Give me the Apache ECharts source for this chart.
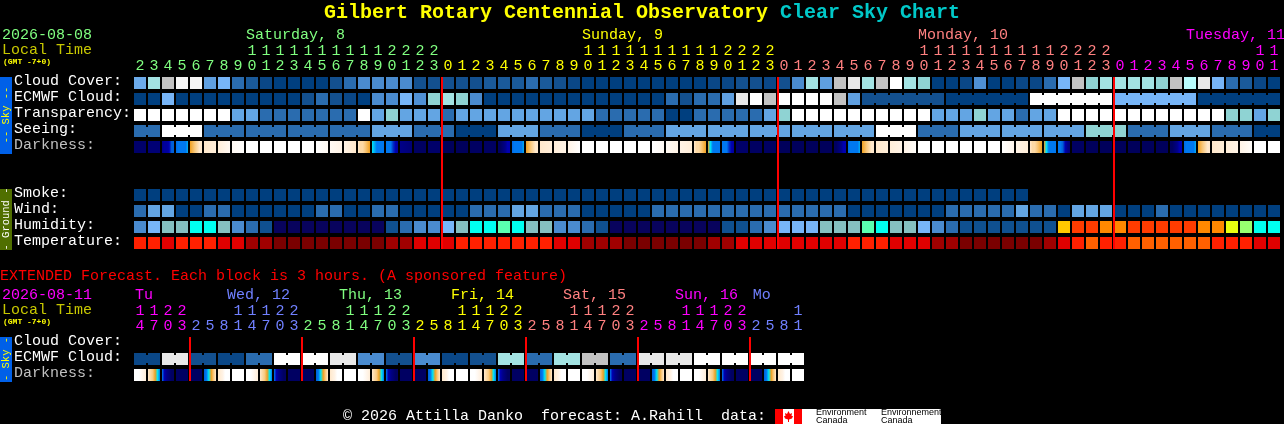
<!DOCTYPE html>
<html><head><meta charset="utf-8">
<style>html,body{margin:0;padding:0;background:#000}#c{width:1284px;height:424px}</style>
<script src="https://cdn.jsdelivr.net/npm/echarts@6/dist/echarts.min.js"></script>
</head><body><div id="c"></div>
<script>
// ---------- main forecast (one cell per hour) ----------
const hours = [2,3,4,5,6,7,8,9,10,11,12,13,14,15,16,17,18,19,20,21,22,23,
  0,1,2,3,4,5,6,7,8,9,10,11,12,13,14,15,16,17,18,19,20,21,22,23,
  0,1,2,3,4,5,6,7,8,9,10,11,12,13,14,15,16,17,18,19,20,21,22,23,
  0,1,2,3,4,5,6,7,8,9,10,11];
const rowNames = ['Cloud Cover:','ECMWF Cloud:','Transparency:','Seeing:','Darkness:','','','Smoke:','Wind:','Humidity:','Temperature:'];
// cloud cover, percent
const cloudCover = [45,70,80,95,95,40,50,20,15,5,0,0,0,0,10,20,30,30,30,30,10,10,
  10,10,10,15,15,15,20,15,10,5,0,0,0,0,0,0,0,0,0,5,5,10,10,5,10,30,70,40,80,90,
  70,80,100,70,60,0,0,5,35,0,0,5,5,20,50,80,60,70,70,70,70,60,80,75,90,50,20,15,5,0];
const ecmwfCloud = [0,0,50,0,0,0,0,0,0,0,0,0,10,20,10,5,0,30,30,50,35,60,
  70,60,30,0,0,0,0,0,0,0,0,0,0,0,0,0,20,10,20,20,40,90,100,80,100,100,100,100,80,40,
  10,10,10,10,10,10,0,0,0,0,0,0,100,100,100,100,100,100,50,50,50,50,50,50,0,0,0,0,0,0];
// sky quality class: 0 excellent, 1 above average, 2 average, 3 below average, 5 too cloudy
const transparency = [5,5,5,5,5,5,5,2,2,1,1,1,1,1,1,1,5,2,3,2,2,2,
  1,2,2,2,2,2,2,2,2,2,2,1,1,1,1,1,0,0,1,1,1,1,1,2,3,5,5,5,5,5,
  5,5,5,5,5,2,2,2,3,2,2,1,2,2,5,5,5,5,5,5,5,5,5,5,5,5,3,3,2,3];
const seeing = [1,1,5,5,5,1,1,1,1,1,1,1,1,1,1,1,1,2,2,2,1,1,
  1,0,0,0,2,2,2,1,1,1,0,0,0,1,1,1,2,2,2,2,2,2,2,2,2,2,2,2,2,2,
  2,5,5,5,1,1,1,2,2,2,2,2,2,2,2,2,3,3,3,1,1,1,2,2,2,1,1,1,0,0];
// sky brightness (limiting magnitude style) sampled across each block
const darkness = [[5.8,5.8],[5.5,5.5],[5,4.5,4.5,4,3,3],[2.5,2,2,2,2,1.5],[0,-.5,-1,-1.5,-2,-2],[-2,-2.5],[-2.5,-3.5],[-3.5,-3.9],
  [-4,-4],[-4,-4],[-4,-4],[-4,-4],[-4,-4],[-4,-3.5],[-3.5,-3],[-3,-2],[-2,-1.5,-1.5,-1,-.5,0],[1,1.5,2,2,2,2],[2,2,2,3.5,4,4.5],[5,5.5],[6,6],[5.8,5.8],
  [6.2,6.2],[6.2,6.2],[6,6],[6,6],[6,6,5.5,5,4,4],[2.5,2,2,2,2,1.5],[0,-.5,-1,-1.5,-2,-2],[-2,-2.5],[-2.5,-3],[-3,-4],
  [-4,-4],[-4,-4],[-4,-4],[-4,-4],[-4,-4],[-4,-3.5],[-3.5,-3],[-3,-2.5],[-2,-1.5,-1.5,-1,-.5,0],[0,1,2,2,2,2],[2,2,2,3.5,4,4.5],[5.8,5.8],[6,6],[6,6],
  [6.2,6.2],[6.2,6.2],[6.2,6.2],[6.2,6.2],[6,6,5.5,5,4,4],[2.5,2,2,2,2,1.5],[0,-.5,-1,-1.5,-2,-2],[-2,-2.5],[-2.5,-3],[-3,-3.8],
  [-4,-4],[-4,-4],[-4,-4],[-4,-4],[-4,-4],[-4,-4],[-4,-3.2],[-3,-2.5],[-2,-1.5,-1.5,-1,-.5,0],[0,1,2,2,2,2],[2,2,3,4,5,5.5],[6,6],
  [6.2,6.2],[6.2,6.2],[6.2,6.2],[6.2,6.2],[6.2,6.2],[6.2,6.2],[6,6,5.5,5,4,4],[2.5,2,2,2,2,1.5],[0,-.5,-1,-1.5,-2,-2],[-2,-2.5],[-2.5,-3],[-3,-3.8],[-4,-4],[-4,-4]];
const smoke = Array.from('0000000000000000000000000000000000000000000000000000000000000000').map(Number);
// wind, mph
const wind = [8,14,14,3,3,8,8,3,3,3,3,3,3,8,8,3,3,8,8,3,3,3,
  3,3,8,8,8,14,14,8,8,8,3,3,3,3,3,8,8,8,8,8,8,8,8,8,8,8,8,8,8,3,
  3,3,3,3,3,3,8,8,8,8,8,14,8,8,3,14,14,14,3,3,3,8,3,3,3,3,3,3,3,3];
// humidity, percent
const humidity = [37,42,47,47,52,52,47,37,32,27,20,20,20,20,20,20,20,20,27,32,37,37,
  42,47,52,52,57,52,47,47,37,37,32,27,20,20,20,20,20,20,20,20,27,27,32,37,42,42,42,47,47,47,
  57,52,47,47,42,37,32,27,27,27,27,27,27,27,72,82,82,77,77,82,82,82,82,82,77,77,67,62,52,52];
// temperature, deg C
const temperature = [24,24,20,24,24,24,20,20,16,16,12,12,12,12,12,12,12,12,16,16,20,20,
  20,24,24,24,24,24,24,24,20,20,16,16,16,12,12,12,12,12,12,16,16,20,20,20,20,20,20,20,20,24,
  24,24,20,20,20,16,16,12,12,12,12,12,12,16,20,24,28,24,24,28,28,28,28,28,28,24,24,24,20,20];
const midnightIdx = [22,46,70];
const dayLabels = [[8,'Saturday, 8',0],[32,'Sunday, 9',1],[56,'Monday, 10',2],[75.15,'Tuesday, 11',3]];
// ---------- extended forecast (one cell per 3 hours) ----------
const extHours = [14,17,20,23,
  2,5,8,11,14,17,20,23, 2,5,8,11,14,17,20,23, 2,5,8,11,14,17,20,23,
  2,5,8,11,14,17,20,23, 2,5,8,11,14,17,20,23, 2,5,8,11];
const extRowNames = ['Cloud Cover:','ECMWF Cloud:','Darkness:'];
const extCloud = [5,5,90,90,10,10,5,5,20,20,100,100,100,100,90,90,30,30,10,10,30,30,5,5,10,10,70,70,20,20,70,70,80,80,20,20,90,90,90,90,100,100,100,100,100,100,100,100];
const extDarkness = [
  [-4,-4,-4,-3.5,-3,-2.5],[-2,-1.5,-1,0,1,2],[2,4,5,5.5,6,6],[6,6],[6,6],[3,2,1,0,-1,-2],[-2,-2.5,-3,-4,-4,-4],[-4,-4],
  [-4,-4,-4,-3.5,-3,-2.5],[-2,-1.5,-1,0,1,2],[2,4,5,5.5,6,6],[6,6],[6,6],[3,2,1,0,-1,-2],[-2,-2.5,-3,-4,-4,-4],[-4,-4],
  [-4,-4,-4,-3.5,-3,-2.5],[-2,-1.5,-1,0,1,2],[2,4,5,5.5,6,6],[6,6],[6,6],[3,2,1,0,-1,-2],[-2,-2.5,-3,-4,-4,-4],[-4,-4],
  [-4,-4,-4,-3.5,-3,-2.5],[-2,-1.5,-1,0,1,2],[2,4,5,5.5,6,6],[6,6],[6,6],[3,2,1,0,-1,-2],[-2,-2.5,-3,-4,-4,-4],[-4,-4],
  [-4,-4,-4,-3.5,-3,-2.5],[-2,-1.5,-1,0,1,2],[2,4,5,5.5,6,6],[6,6],[6,6],[3,2,1,0,-1,-2],[-2,-2.5,-3,-4,-4,-4],[-4,-4],
  [-4,-4,-4,-3.5,-3,-2.5],[-2,-1.5,-1,0,1,2],[2,4,5,5.5,6,6],[6,6],[6,6],[3,2,1,0,-1,-2],[-2,-2.5,-3,-4,-4,-4],[-4,-4]];
const extMidnightIdx = [4,12,20,28,36,44];
const extDayLabels = [[0.07,'Tu',3],[6.64,'Wed, 12',4],[14.64,'Thu, 13',0],[22.64,'Fri, 14',1],[30.64,'Sat, 15',2],[38.64,'Sun, 16',3],[44.2,'Mo',4]];

// ---------- colour scales ----------
const dayColors = ['#80FF80','#FFFF00','#FF8080','#FF00FF','#7080FF'];
const cloudColors = {0:'#003F7F',5:'#0A4787',10:'#13508F',15:'#1A5A9A',20:'#2A6CAF',30:'#4A8BCF',35:'#4F90D4',40:'#5F9FE0',45:'#6CABEA',50:'#77B5F7',60:'#8FD3D3',70:'#A3E3E3',75:'#B8FBFB',80:'#C2C2C2',90:'#E8E8E8',95:'#F6F6F6',100:'#FFFFFF'};
const classColors = {0:'#003F7F',1:'#2A6CAF',2:'#63A5E3',3:'#8FD3D3',5:'#FFFFFF'};
const windColors = {3:'#003F7F',8:'#2A6CAF',14:'#63A5E3'};
const humidityColors = {20:'#08035D',27:'#0F5090',32:'#2A6CAF',37:'#4A8BCF',42:'#77B5F7',47:'#85C0C0',52:'#00FFF0',57:'#5AFFB0',62:'#98FF70',67:'#E8FF10',72:'#FFC800',77:'#FF8800',82:'#FF3C00'};
const tempColors = {12:'#7A0000',16:'#A00000',20:'#E00000',24:'#FF2000',28:'#FF6000'};
const darkStops = [[-4,[255,255,255]],[-3,[255,243,230]],[-2,[255,232,204]],[-1,[249,201,126]],[0,[240,160,32]],[1,[0,229,245]],[2,[0,120,240]],[3,[0,96,216]],[4,[0,0,176]],[5,[0,0,136]],[6,[0,0,98]],[6.5,[0,0,80]]];
function darkColor(v){
  for(let i=0;i<darkStops.length-1;i++){
    const a=darkStops[i],b=darkStops[i+1];
    if(v<=b[0]){const t=(v-a[0])/(b[0]-a[0]);
      return 'rgb('+a[1].map((c,k)=>Math.round(c+(b[1][k]-c)*t)).join(',')+')';}
  }
  return 'rgb(0,0,80)';
}
const CELL=12, BRIDGE=8, GAP=2;
function cellSeries(grid,row,values,palette,bridges){
  return {type:'custom',xAxisIndex:grid*2,yAxisIndex:grid,silent:true,z:2,
    data:values.map((v,i)=>[i,row,v,bridges&&bridges(i)?1:0]),
    encode:{x:0,y:1},
    renderItem(p,api){
      const c=api.coord([api.value(0),api.value(1)]);
      const fill=palette[api.value(2)];
      const kids=[{type:'rect',shape:{x:c[0]-CELL/2,y:c[1]-CELL/2,width:CELL,height:CELL},style:{fill}}];
      if(api.value(3)) kids.push({type:'rect',shape:{x:c[0]+CELL/2,y:c[1]-BRIDGE/2,width:GAP,height:BRIDGE},style:{fill}});
      return {type:'group',children:kids};
    }};
}
function darkSeries(grid,row,values){
  return {type:'custom',xAxisIndex:grid*2,yAxisIndex:grid,silent:true,z:2,
    data:values.map((v,i)=>[i,row]),encode:{x:0,y:1},
    renderItem(p,api){
      const c=api.coord([api.value(0),api.value(1)]);
      const s=values[p.dataIndex];
      return {type:'rect',shape:{x:c[0]-CELL/2,y:c[1]-CELL/2,width:CELL,height:CELL},
        style:{fill:new echarts.graphic.LinearGradient(0,0,1,0,s.map((v,k)=>({offset:k/(s.length-1),color:darkColor(v)})))}};
    }};
}
function lineSeries(grid,idx,firstRow,lastRow){
  return {type:'custom',xAxisIndex:grid*2,yAxisIndex:grid,silent:true,z:5,
    data:idx.map(i=>[i,firstRow]),encode:{x:0,y:1},
    renderItem(p,api){
      const t=api.coord([api.value(0),firstRow]),b=api.coord([api.value(0),lastRow]);
      return {type:'rect',z2:5,shape:{x:t[0]-CELL/2-1,y:t[1]-CELL/2,width:2,height:b[1]-t[1]+CELL},style:{fill:'#FF0000'}};
    }};
}
function dayLabelSeries(grid,labels){
  return {type:'custom',xAxisIndex:grid*2,yAxisIndex:grid,silent:true,clip:false,
    data:labels.map(l=>[Math.floor(l[0]),0]),encode:{x:0,y:1},
    renderItem(p,api){
      const l=labels[p.dataIndex];
      const c=api.coord([api.value(0),0]);
      return {type:'text',x:c[0]-CELL/2+(l[0]-Math.floor(l[0]))*14,y:c[1]-48,
        style:{text:l[1],fill:dayColors[l[2]],font:FONT,textAlign:'left',textVerticalAlign:'middle'}};
    }};
}
const FONT='15px "Liberation Mono"';
function dayIndexes(hs,seq){
  let d=0,prev=hs[0];
  return hs.map(h=>{if(h<prev)d++;prev=h;return seq[d];});
}
const mainDays=dayIndexes(hours,[0,1,2,3]);
const extDays=dayIndexes(extHours,[3,4,0,1,2,3,4]);
function digitData(hs,days){return hs.map((h,i)=>({value:String(h%10),textStyle:{color:dayColors[days[i]]}}));}
function tensData(hs,days){return hs.map((h,i)=>({value:h>=10?String(Math.floor(h/10)):' ',textStyle:{color:dayColors[days[i]]}}));}
function xAxes(grid,hs,days){
  const base={type:'category',gridIndex:grid,position:'top',axisLine:{show:false},axisTick:{show:false},splitLine:{show:false}};
  return [
    Object.assign({},base,{data:digitData(hs,days),axisLabel:{interval:0,margin:1.5,fontFamily:'Liberation Mono',fontSize:15}}),
    Object.assign({},base,{data:tensData(hs,days),offset:15,axisLabel:{interval:0,margin:1.5,fontFamily:'Liberation Mono',fontSize:15}})
  ];
}
function yAxis(grid,names){
  return {type:'category',gridIndex:grid,inverse:true,
    data:names.map(n=>({value:n,textStyle:{align:'left',verticalAlign:'bottom',lineHeight:3,color:n==='Darkness:'?'#C0C0C0':'#FFFFFF'}})),
    axisLine:{show:false},axisTick:{show:false},splitLine:{show:false},
    axisLabel:{interval:0,align:'left',margin:119,fontFamily:'Liberation Mono',fontSize:15}};
}
function txt(x,y,text,fill,font,extra){
  return Object.assign({type:'text',x,y,silent:true,style:{text,fill,font,textVerticalAlign:'middle'}},extra||{});
}
function barText(cy,text,fill){
  return {type:'text',x:6,y:cy,rotation:Math.PI/2,silent:true,style:{text,fill,font:'10.5px "Liberation Mono"',textAlign:'center',textVerticalAlign:'middle'}};
}
const seeingGroups=i=>i!==1&&(i-2)%3!==2&&i<81;
const ecmwfBridge=i=>i>=52&&i<81&&(i-52)%6!==5;
const extBridge=i=>i%2===0;
const chart=echarts.init(document.getElementById('c'),null,{renderer:'canvas'});
chart.setOption({
  animation:false,backgroundColor:'#000',tooltip:{show:false},
  grid:[{left:133,top:75,width:1148,height:176,outerBoundsMode:'none',containLabel:false},
        {left:133,top:335,width:672,height:48,outerBoundsMode:'none',containLabel:false}],
  xAxis:[...xAxes(0,hours,mainDays),...xAxes(1,extHours,extDays)],
  yAxis:[yAxis(0,rowNames),yAxis(1,extRowNames)],
  series:[
    cellSeries(0,0,cloudCover,cloudColors),
    cellSeries(0,1,ecmwfCloud,cloudColors,ecmwfBridge),
    cellSeries(0,2,transparency,classColors),
    cellSeries(0,3,seeing,classColors,seeingGroups),
    darkSeries(0,4,darkness),
    cellSeries(0,7,smoke,{0:'#003F7F'}),
    cellSeries(0,8,wind,windColors),
    cellSeries(0,9,humidity,humidityColors),
    cellSeries(0,10,temperature,tempColors),
    lineSeries(0,midnightIdx,0,10),
    dayLabelSeries(0,dayLabels),
    cellSeries(1,1,extCloud,cloudColors,extBridge),
    darkSeries(1,2,extDarkness),
    lineSeries(1,extMidnightIdx,0,2),
    dayLabelSeries(1,extDayLabels)
  ],
  graphic:[
    txt(324,13,'Gilbert Rotary Centennial Observatory','#FFFF00','bold 20px "Liberation Mono"'),
    txt(780,13,'Clear Sky Chart','#00C8C8','bold 20px "Liberation Mono"'),
    txt(2,35,'2026-08-08','#80FF80',FONT),
    txt(2,50,'Local Time','#C8C800',FONT),
    txt(3,62,'(GMT -7+0)','#FFFF00','bold 8px "Liberation Mono"'),
    {type:'rect',silent:true,shape:{x:0,y:77,width:12,height:77},style:{fill:'#0060E8'}},
    barText(115,'-- Sky --','#FFFF00'),
    {type:'rect',silent:true,shape:{x:0,y:189,width:12,height:61},style:{fill:'#506F00'}},
    barText(219,'- Ground -','#FFFFFF'),
    txt(0,276,'EXTENDED Forecast. Each block is 3 hours. (A sponsored feature)','#FF0000',FONT),
    txt(2,295,'2026-08-11','#FF00FF',FONT),
    txt(2,310,'Local Time','#C8C800',FONT),
    txt(3,322,'(GMT -7+0)','#FFFF00','bold 8px "Liberation Mono"'),
    {type:'rect',silent:true,shape:{x:0,y:337,width:12,height:45},style:{fill:'#0060E8'}},
    barText(359,'- Sky -','#FFFF00'),
    txt(343,416,'\u00A9 2026 Attilla Danko  forecast: A.Rahill  data:','#FFFFFF',FONT),
    {type:'rect',silent:true,shape:{x:775,y:409,width:166,height:15},style:{fill:'#FFFFFF'}},
    {type:'rect',silent:true,shape:{x:775,y:409,width:8,height:15},style:{fill:'#FF0000'}},
    {type:'rect',silent:true,shape:{x:794,y:409,width:8,height:15},style:{fill:'#FF0000'}},
    {type:'polygon',silent:true,shape:{points:[[788.5,411],[790,414],[792,413],[791.5,416],[793,416],[792,418.5],[789,419.5],[789,422],[788,422],[788,419.5],[785,418.5],[784,416],[785.5,416],[785,413],[787,414]]},style:{fill:'#FF0000'}},
    txt(816,413,'Environment','#000000','9px "Liberation Sans"'),
    txt(816,421,'Canada','#000000','9px "Liberation Sans"'),
    txt(881,413,'Environnement','#000000','9px "Liberation Sans"'),
    txt(881,421,'Canada','#000000','9px "Liberation Sans"')
  ]
});
</script></body></html>
